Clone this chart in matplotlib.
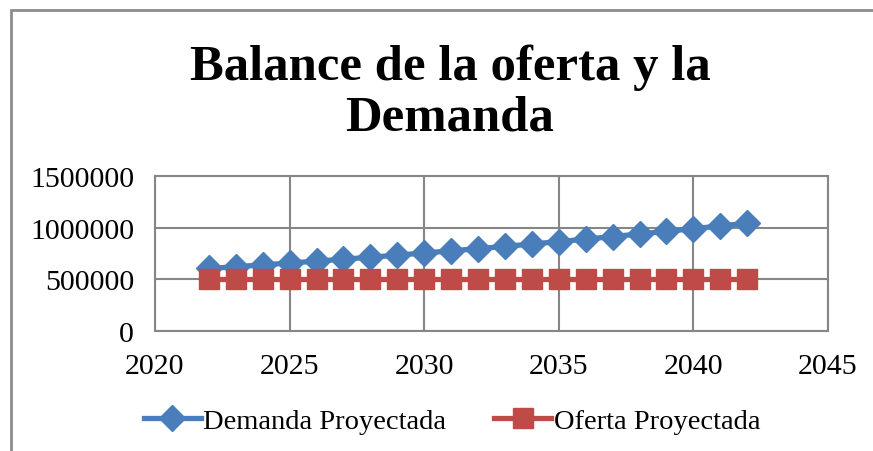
import numpy as np
import matplotlib
matplotlib.use('Agg')
from matplotlib import pyplot as plt
from matplotlib.patches import Rectangle

# datos
anios = [2022, 2023, 2024, 2025, 2026, 2027, 2028, 2029, 2030, 2031, 2032,
         2033, 2034, 2035, 2036, 2037, 2038, 2039, 2040, 2041, 2042]
demanda = [605000, 622000, 640000, 658000, 676000, 695000, 714000, 734000,
           755000, 776000, 797000, 819000, 842000, 865000, 889000, 914000,
           939000, 965000, 990000, 1017000, 1043000]
oferta = [500000] * len(anios)

xticks = [2020, 2025, 2030, 2035, 2040, 2045]
yticks = [0, 500000, 1000000, 1500000]

azul = '#4a7ebb'
rojo = '#be4b48'
gris = '#868686'

plt.rcParams['font.family'] = ['Liberation Serif', 'DejaVu Serif']

fig = plt.figure(figsize=(8.73, 4.52), dpi=100)
ax = fig.add_axes([155/873, 1-332/452, (828-155)/873, (332-177)/452])

# marco del grafico
fig.patches.append(Rectangle((11/873, -0.2), 1.2, 1.2 - 11/452,
                             transform=fig.transFigure, fill=False,
                             edgecolor='#8c8c8c', lw=2))

ax.plot(anios, demanda, color=azul, lw=3.8, marker='D', markersize=13,
        label='Demanda Proyectada', clip_on=False, zorder=3)
ax.plot(anios, oferta, color=rojo, lw=3.8, marker='s', markersize=15,
        label='Oferta Proyectada', clip_on=False, zorder=3)

ax.set_xlim(2020, 2045)
ax.set_ylim(0, 1500000)
ax.set_xticks(xticks)
ax.set_yticks(yticks)
ax.set_xticklabels([str(t) for t in xticks])
ax.set_yticklabels([str(t) for t in yticks])
ax.tick_params(length=0, labelsize=21.5)
ax.tick_params(axis='x', pad=16)
ax.tick_params(axis='y', pad=15)
ax.grid(True, color=gris, lw=1.5)
for s in ax.spines.values():
    s.set_color(gris)
    s.set_linewidth(1.5)

fig.text(450/873, 1-93/452, 'Balance de la oferta y la\nDemanda',
         ha='center', va='center', fontsize=36.5, fontweight='bold',
         linespacing=1.14)

ax.legend(loc='center', bbox_to_anchor=(452/873, 1-422/452),
          bbox_transform=fig.transFigure, ncol=2, frameon=False,
          fontsize=20.5, handlelength=2.0, handletextpad=0.08,
          columnspacing=1.7)

fig.savefig('out.png', dpi=100)
